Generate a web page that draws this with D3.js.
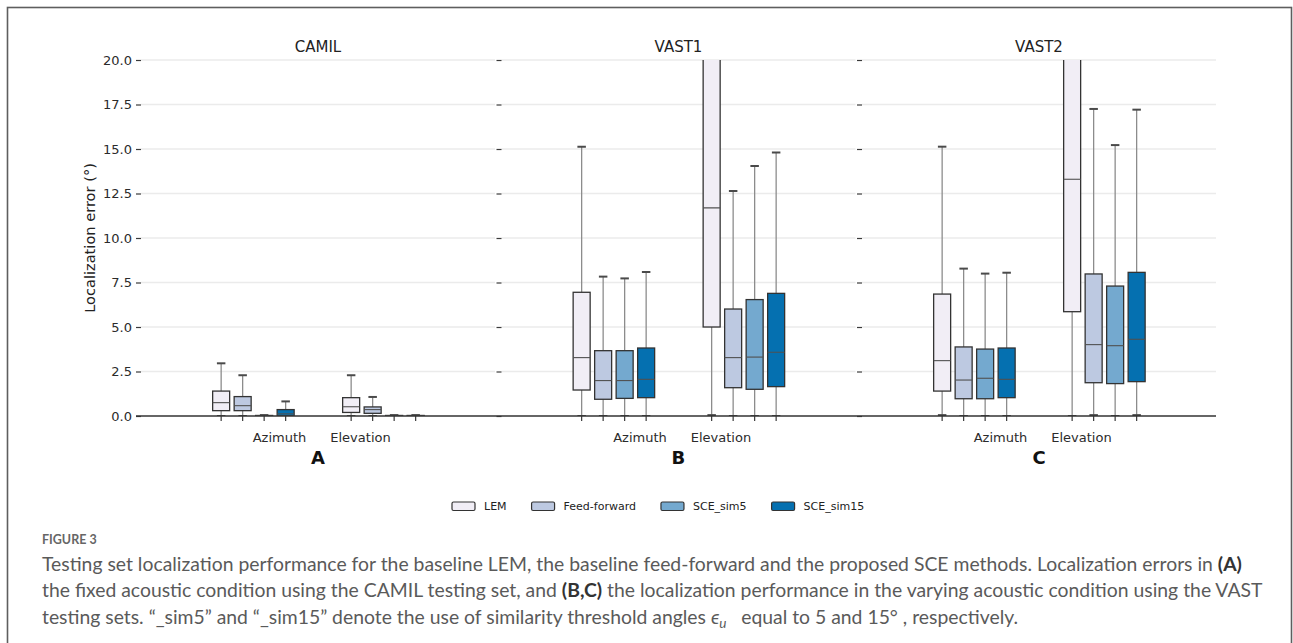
<!DOCTYPE html>
<html>
<head>
<meta charset="utf-8">
<script src="https://cdn.jsdelivr.net/npm/d3@7/dist/d3.min.js"></script>
<style>
  html,body{margin:0;padding:0;background:#fff;}
  svg{display:block;}
</style>
</head>
<body>
<svg id="chart" width="1293" height="643"></svg>
<script>
// ---------------- DATA ----------------
const datasets = ["CAMIL", "VAST1", "VAST2"];
const panelLetters = ["A", "B", "C"];
const conditions = ["Azimuth", "Elevation"];
const methods = ["LEM", "Feed-forward", "SCE_sim5", "SCE_sim15"];
const methodColors = ["#f1eef6", "#bdc9e1", "#74a9cf", "#0570b0"];
const yTicks = [0, 2.5, 5, 7.5, 10, 12.5, 15, 17.5, 20];

// box stats per dataset: [whiskerLow, q1, median, q3, whiskerHigh]
// rows: Azimuth (LEM, FF, sim5, sim15), Elevation (LEM, FF, sim5, sim15)
const camilStats = [
  [0, 0.30, 0.75, 1.40, 2.96],
  [0, 0.30, 0.58, 1.09, 2.29],
  [0, 0.01, 0.02, 0.03, 0.05],
  [0, 0.00, 0.12, 0.36, 0.82],
  [0, 0.20, 0.52, 1.03, 2.29],
  [0, 0.15, 0.36, 0.51, 1.07],
  [0, 0.01, 0.02, 0.03, 0.05],
  [0, 0.01, 0.02, 0.03, 0.05]
];
const vast1Stats = [
  [0, 1.46, 3.28, 6.95, 15.13],
  [0, 0.94, 1.99, 3.67, 7.83],
  [0, 0.99, 1.99, 3.67, 7.73],
  [0, 1.03, 2.06, 3.82, 8.09],
  [0.05, 5.00, 11.69, 23.5, 38.0],
  [0, 1.59, 3.28, 6.01, 12.64],
  [0, 1.50, 3.31, 6.54, 14.04],
  [0, 1.65, 3.58, 6.89, 14.81]
];
const vast2Stats = [
  [0.05, 1.40, 3.11, 6.85, 15.13],
  [0, 0.97, 2.02, 3.88, 8.28],
  [0, 0.97, 2.12, 3.76, 8.00],
  [0, 1.03, 2.06, 3.82, 8.05],
  [0, 5.86, 13.30, 25.0, 42.0],
  [0.05, 1.87, 4.01, 7.98, 17.25],
  [0, 1.82, 3.95, 7.30, 15.22],
  [0.05, 1.93, 4.31, 8.07, 17.21]
];
const allStats = [camilStats, vast1Stats, vast2Stats];

const yLabel = "Localization error (°)";
const figureLabel = "FIGURE 3";
const captionLines = [
  [{t:"Testing set localization performance for the baseline LEM, the baseline feed-forward and the proposed SCE methods. Localization errors in "},{t:"(A)",b:true}],
  [{t:"the fixed acoustic condition using the CAMIL testing set, and "},{t:"(B,C)",b:true},{t:" the localization performance in the varying acoustic condition using the VAST"}],
  [{t:"testing sets. \u201C_sim5\u201D and \u201C_sim15\u201D denote the use of similarity threshold angles "},{t:"\u03F5",i:true},{t:"u",i:true,sub:true},{t:"\u2002 equal to 5 and 15\u00B0 , respectively."}]
];

// ---------------- LAYOUT ----------------
const W = 1293, H = 643;
const plotTop = 60, plotBottom = 416, plotLeft = 141, plotRight = 1216;
const FONT = "'DejaVu Sans', sans-serif";

const svg = d3.select("#chart");
svg.append("rect").attr("width", W).attr("height", H).attr("fill", "#fff");

// figure frame
svg.append("rect")
  .attr("x", 7.5).attr("y", 7.5).attr("width", 1284).attr("height", 720)
  .attr("fill", "none").attr("stroke", "#5e5e5e").attr("stroke-width", 1.6);

const panelScale = d3.scaleBand().domain(datasets).range([plotLeft, plotRight]).paddingInner(0.018);
const pw = panelScale.bandwidth();
const y = d3.scaleLinear().domain([0, 20]).range([plotBottom, plotTop]);
const xCond = d3.scaleBand().domain(conditions).range([47.4, 307.4]);
const xMethod = d3.scaleBand().domain(methods).range([-43, 43]);
const xLabel = d3.scalePoint().domain(conditions).range([138.5, 219.5]);
const boxW = 17;

const defs = svg.append("defs");

datasets.forEach((ds, di) => {
  const px = panelScale(ds);
  const g = svg.append("g").attr("transform", `translate(${px},0)`);

  // gridlines
  g.selectAll("line.grid").data(yTicks.filter(d => d > 0)).join("line")
    .attr("x1", 0).attr("x2", pw)
    .attr("y1", d => y(d)).attr("y2", d => y(d))
    .attr("stroke", "#ebebeb").attr("stroke-width", 1.4);

  // y axis ticks
  const ax = d3.axisLeft(y).tickValues(yTicks).tickSize(5).tickPadding(4)
    .tickFormat(di === 0 ? d3.format(".1f") : () => "");
  const axg = g.append("g").call(ax);
  axg.select(".domain").remove();
  axg.selectAll(".tick line").attr("stroke", "#3a3a3a").attr("stroke-width", 1.2);
  axg.selectAll(".tick text").attr("fill", "#2b2b2b").style("font-family", FONT).style("font-size", "13px");

  // title
  g.append("text").attr("x", pw / 2).attr("y", 52).attr("text-anchor", "middle")
    .style("font-family", FONT).style("font-size", "15px").attr("fill", "#222").text(ds);

  // clip
  const cid = "clip" + di;
  defs.append("clipPath").attr("id", cid).append("rect")
    .attr("x", 0).attr("y", plotTop).attr("width", pw).attr("height", plotBottom - plotTop);

  const rows = [];
  conditions.forEach((c, ci) => methods.forEach((m, mi) => {
    const s = allStats[di][ci * 4 + mi];
    rows.push({c, m, mi, lo: s[0], q1: s[1], med: s[2], q3: s[3], hi: s[4],
      cx: xCond(c) + xCond.bandwidth() / 2 + xMethod(m) + xMethod.bandwidth() / 2});
  }));

  // x tick marks
  g.selectAll("line.xt").data(rows).join("line")
    .attr("x1", d => d.cx).attr("x2", d => d.cx)
    .attr("y1", plotBottom).attr("y2", plotBottom + 5)
    .attr("stroke", "#3a3a3a").attr("stroke-width", 1.2);

  const bg = g.append("g").attr("clip-path", `url(#${cid})`);
  const bx = bg.selectAll("g.box").data(rows).join("g");
  // whiskers
  bx.append("line").attr("x1", d => d.cx).attr("x2", d => d.cx)
    .attr("y1", d => y(d.q3)).attr("y2", d => y(d.hi))
    .attr("stroke", "#8c8c8c").attr("stroke-width", 1.3);
  bx.append("line").attr("x1", d => d.cx).attr("x2", d => d.cx)
    .attr("y1", d => y(d.q1)).attr("y2", d => y(d.lo))
    .attr("stroke", "#8c8c8c").attr("stroke-width", 1.3);
  // caps
  bx.append("line").attr("x1", d => d.cx - boxW / 4).attr("x2", d => d.cx + boxW / 4)
    .attr("y1", d => y(d.hi)).attr("y2", d => y(d.hi))
    .attr("stroke", "#4a4a4a").attr("stroke-width", 2);
  bx.append("line").attr("x1", d => d.cx - boxW / 4).attr("x2", d => d.cx + boxW / 4)
    .attr("y1", d => y(d.lo)).attr("y2", d => y(d.lo))
    .attr("stroke", "#4a4a4a").attr("stroke-width", 2);
  // box
  bx.append("rect").attr("x", d => d.cx - boxW / 2).attr("width", boxW)
    .attr("y", d => y(d.q3)).attr("height", d => Math.max(0.5, y(d.q1) - y(d.q3)))
    .attr("fill", d => methodColors[d.mi]).attr("stroke", "#333").attr("stroke-width", 1.3);
  // median
  bx.append("line").attr("x1", d => d.cx - boxW / 2).attr("x2", d => d.cx + boxW / 2)
    .attr("y1", d => y(d.med)).attr("y2", d => y(d.med))
    .attr("stroke", "#505050").attr("stroke-width", 1.1);

  // condition labels
  g.selectAll("text.cl").data(conditions).join("text")
    .attr("x", d => xLabel(d)).attr("y", 442).attr("text-anchor", "middle")
    .style("font-family", FONT).style("font-size", "13px").attr("fill", "#2b2b2b").text(d => d);

  // panel letter
  g.append("text").attr("x", pw / 2).attr("y", 464).attr("text-anchor", "middle")
    .style("font-family", FONT).style("font-size", "18px").style("font-weight", "bold")
    .attr("fill", "#111").text(panelLetters[di]);
});

// baseline
svg.append("line").attr("x1", plotLeft - 5).attr("x2", plotRight)
  .attr("y1", y(0)).attr("y2", y(0)).attr("stroke", "#333").attr("stroke-width", 1.3);

// y label
svg.append("text").attr("transform", `translate(90,${(plotTop + plotBottom) / 2}) rotate(-90)`)
  .attr("text-anchor", "middle").attr("dy", "0.35em")
  .style("font-family", FONT).style("font-size", "14.6px").attr("fill", "#222").text(yLabel);

// legend
const leg = svg.append("g");
let lx = 452;
methods.forEach((m, i) => {
  leg.append("rect").attr("x", lx).attr("y", 502).attr("width", 23).attr("height", 8.5)
    .attr("rx", 1.5).attr("fill", methodColors[i]).attr("stroke", "#333").attr("stroke-width", 1.2);
  const t = leg.append("text").attr("x", lx + 32).attr("y", 510)
    .style("font-family", FONT).style("font-size", "11px").attr("fill", "#222").text(m);
  lx += 32 + t.node().getComputedTextLength() + 25;
});

// caption
const CAPFONT = "Lato, 'Open Sans', sans-serif";
svg.append("text").attr("x", 42).attr("y", 544)
  .style("font-family", CAPFONT).style("font-size", "12.5px").style("font-weight", "bold")
  .attr("fill", "#666").text(figureLabel);

const capY = [571, 597, 624];
const capNodes = captionLines.map((parts, li) => {
  const t = svg.append("text").attr("x", 42).attr("y", capY[li])
    .style("font-family", CAPFONT).style("font-size", "16px").attr("fill", "#5a5a5a");
  parts.forEach(p => {
    const ts = t.append("tspan").text(p.t);
    if (p.b) ts.style("font-weight", "bold").attr("fill", "#333");
    if (p.i) ts.style("font-style", "italic");
    if (p.sub) ts.attr("dy", 4).style("font-size", "11px");
    else if (li === 2 && p.t.startsWith("\u2002")) ts.attr("dy", -4);
  });
  return t;
});
const w1 = capNodes[0].node().getComputedTextLength();
const fs = 16 * 1201 / w1;
capNodes.forEach(t => t.style("font-size", fs + "px"));
capNodes[2].selectAll("tspan").filter(function(){ return d3.select(this).text() === "u"; })
  .style("font-size", (fs * 0.7) + "px");
</script>
</body>
</html>
